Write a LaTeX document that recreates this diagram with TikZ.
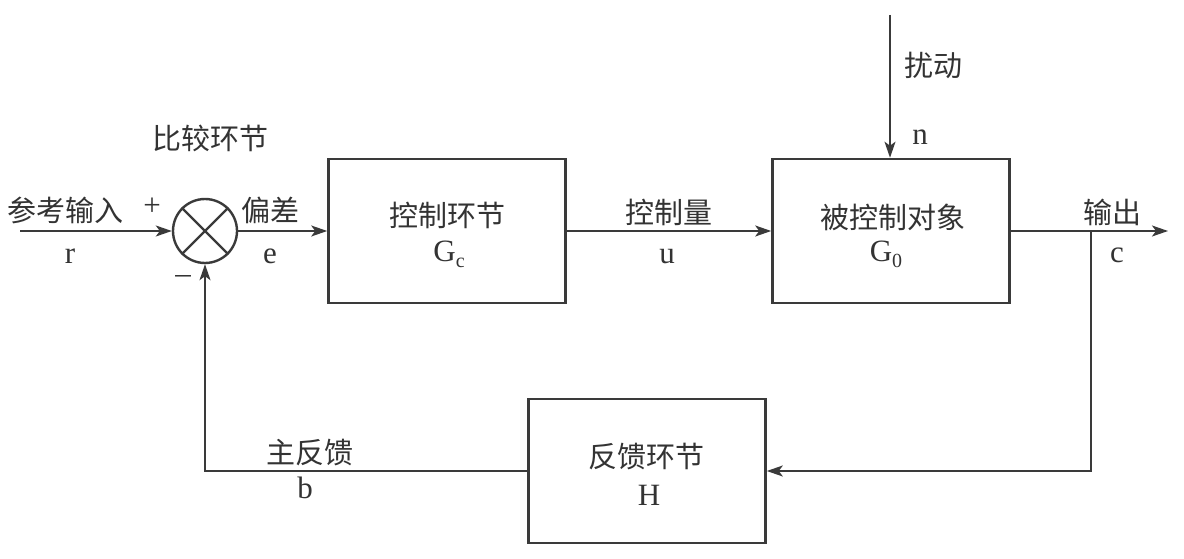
\documentclass[tikz,border=0pt]{standalone}
\usepackage{fontspec}
\setmainfont{Liberation Serif}
\newfontfamily\cjk{Noto Sans CJK SC}
\usetikzlibrary{arrows.meta}
\definecolor{lc}{HTML}{3A3A3A}
\definecolor{tc}{HTML}{333333}
\newcommand{\mysub}[1]{\raisebox{-0.4ex}{\fontsize{20}{20}\selectfont #1}}
\tikzset{
  blk/.style={draw=lc, line width=2.6pt, minimum width=237pt, minimum height=144pt, inner sep=0pt},
  cn/.style={text=tc, inner sep=0pt, font=\cjk\fontsize{29}{29}\selectfont},
  lt/.style={text=tc, inner sep=0pt, font=\fontsize{31}{31}\selectfont},
  wire/.style={draw=lc, line width=1.6pt},
  arr/.style={wire, -{Stealth[length=16pt,width=11pt,inset=4pt]}}
}
\begin{document}
\begin{tikzpicture}[x=1pt,y=-1pt]
\useasboundingbox[fill=white] (0,0) rectangle (1184,559);

% blocks
\node[blk] (gc) at (447,231) {};
\node[blk] (plant) at (891,231) {};
\node[blk] (fb) at (647,471) {};
\node[draw=lc, line width=2.4pt, circle, minimum size=64pt, inner sep=0pt] (sum) at (205,231) {};
\draw[lc, line width=2.2pt] (sum.45) -- (sum.225) (sum.135) -- (sum.315);

% texts in blocks
\node[cn] (gct) at (447,215) {控制环节};
\node[lt] (gcs) at (449,254) {G\mysub{c}};
\node[cn] (plt) at (893,217) {被控制对象};
\node[lt] (pls) at (886,254) {G\mysub{0}};
\node[cn] (fbt) at (646,457) {反馈环节};
\node[lt] (fbs) at (649,495) {H};

% coordinates
\coordinate (in) at (20,231);
\coordinate (out) at (1168,231);
\coordinate (br) at (1091,231);
\coordinate (brd) at (1091,471);
\coordinate (fl) at (205,471);
\coordinate (dist) at (890,15);

% connectors
\draw[arr] (in) -- (sum.west);
\draw[arr] (sum.east) -- (gc.west);
\draw[arr] (gc.east) -- (plant.west);
\draw[arr] (plant.east) -- (out);
\draw[arr] (br) -- (brd) -- (fb.east);
\draw[arr] (fb.west) -- (fl) -- (sum.south);
\draw[arr] (dist) -- (plant.north -| dist);

% labels
\node[cn] (cmp) at (210,138) {比较环节};
\node[cn] (refin) at (66,210) {参考输入};
\node[lt] (plus) at (152,207) {+};
\node[lt] (r) at (70,256) {r};
\node[cn] (dev) at (270,210) {偏差};
\node[lt] (e) at (270,256) {e};
\node[lt] (minus) at (183,280) {\textendash};
\node[cn] (ctl) at (669,212) {控制量};
\node[lt] (u) at (667,257) {u};
\node[cn] (dst) at (933,65) {扰动};
\node[lt] (n) at (920,137) {n};
\node[cn] (outl) at (1112,212) {输出};
\node[lt] (c) at (1117,255) {c};
\node[cn] (mfb) at (310,453) {主反馈};
\node[lt] (b) at (305,488) {b};
\end{tikzpicture}
\end{document}
